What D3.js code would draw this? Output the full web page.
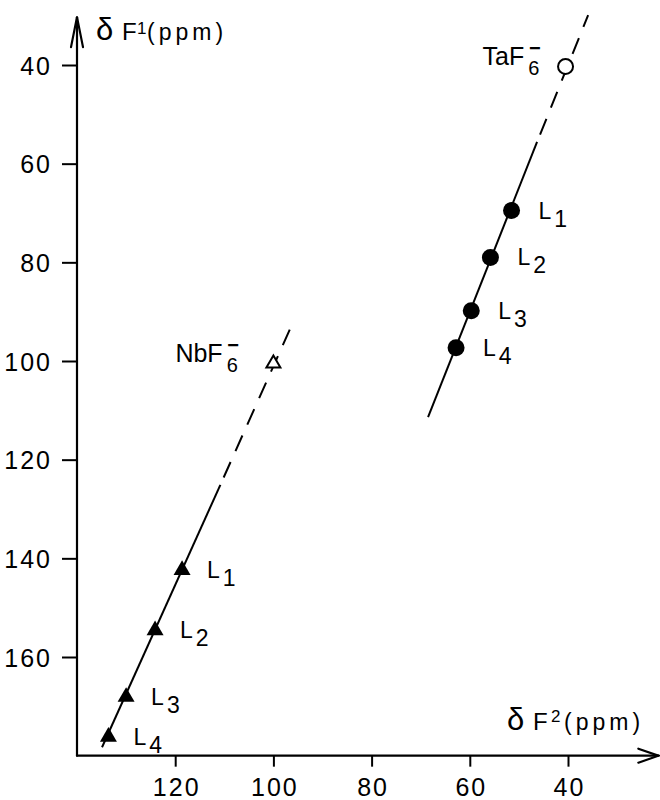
<!DOCTYPE html>
<html>
<head>
<meta charset="utf-8">
<script src="https://cdn.jsdelivr.net/npm/d3@7"></script>
<style>
  body { margin: 0; background: #fff; }
  svg { display: block; font-family: "Liberation Sans", Arial, sans-serif; }
  .tick text { font-size: 25px; letter-spacing: 2px; fill: #000; }
  .tick line { stroke: #000; stroke-width: 2; }
</style>
</head>
<body>
<svg id="chart" width="660" height="800"></svg>
<script>
// delta F2 (x) and delta F1 (y), ppm
const taX = [51.5, 55.8, 59.7, 62.8];
const taY = [69.5, 79.0, 89.8, 97.3];
const nbX = [118.6, 124.1, 130.0, 133.6];
const nbY = [142.4, 154.6, 168.1, 176.2];
const ligands = ["1", "2", "3", "4"];

const taAnion = { name: "TaF", x: 40.5, y: 40.3 };
const nbAnion = { name: "NbF", x: 100, y: 100.5 };

// fitted lines: solid part then dashed extension
const taSolid = [[68.5, 111.4], [46.3, 55.6]];
const taDashed = [[46.3, 55.6], [35.9, 29.9]];
const nbSolid = [[134.9, 178.3], [110.8, 125.1]];
const nbDashed = [[110.8, 125.1], [95.8, 91.7]];

const xTicks = [120, 100, 80, 60, 40];
const yTicks = [40, 60, 80, 100, 120, 140, 160];

const svg = d3.select("#chart");

const x = d3.scaleLinear().domain([140, 40]).range([77, 568]);
const y = d3.scaleLinear().domain([40, 160]).range([65, 657]);
const x0 = x(140), yBase = y(180);

// axes
const xAxis = svg.append("g")
    .attr("transform", `translate(0,${yBase})`)
    .call(d3.axisBottom(x).tickValues(xTicks).tickSize(11));
xAxis.select(".domain").remove();
xAxis.selectAll(".tick text").attr("y", 40).attr("dy", null).attr("dx", 1);

const yAxis = svg.append("g")
    .attr("transform", `translate(${x0},0)`)
    .call(d3.axisLeft(y).tickValues(yTicks).tickSize(15).tickPadding(10));
yAxis.select(".domain").remove();
yAxis.selectAll(".tick text").attr("dy", "0.36em");

const axisLines = svg.append("g").attr("stroke", "#000").attr("stroke-width", 2.2)
    .attr("fill", "none").attr("stroke-linecap", "round");
const yTop = y(30.3), xEnd = x(21.6);
axisLines.append("path").attr("d", `M${x0},${yBase}V${yTop}`);
axisLines.append("path").attr("d", `M${x0},${yBase}H${xEnd}`);
axisLines.append("path").attr("d", `M${x0 - 6},${yTop + 30}L${x0},${yTop}L${x0 + 6},${yTop + 30}`);
axisLines.append("path").attr("d", `M${xEnd - 20},${yBase - 7}L${xEnd},${yBase}L${xEnd - 20},${yBase + 7}`);

// axis titles
function axisTitle(px, py, sup, supX, supDy, pX) {
    const t = svg.append("text").attr("y", py);
    t.append("tspan").attr("x", px).attr("font-size", 31).text("δ");
    t.append("tspan").attr("x", px + 26).attr("font-size", 24).text("F");
    t.append("tspan").attr("x", supX).attr("dy", -supDy).attr("font-size", 17).text(sup);
    t.append("tspan").attr("x", pX).attr("dy", supDy).attr("font-size", 23)
        .attr("letter-spacing", 4).text("(ppm)");
}
axisTitle(96, 40, "1", 137, 6, 147);
axisTitle(507, 730, "2", 551, 8, 564);

// lines
const line = d3.line().x(d => x(d[0])).y(d => y(d[1]));
const lines = svg.append("g").attr("stroke", "#000").attr("fill", "none").attr("stroke-width", 2);
[taSolid, nbSolid].forEach(seg => lines.append("path").attr("d", line(seg)));
[taDashed, nbDashed].forEach(seg => lines.append("path").attr("d", line(seg))
    .attr("stroke-dasharray", "17,12").attr("stroke-dashoffset", -8));

// markers
const taPts = taX.map((v, i) => ({ x: v, y: taY[i], l: ligands[i] }));
const nbPts = nbX.map((v, i) => ({ x: v, y: nbY[i], l: ligands[i] }));

svg.append("g").selectAll("circle").data(taPts).join("circle")
    .attr("cx", d => x(d.x)).attr("cy", d => y(d.y)).attr("r", 8.5).attr("fill", "#000");

svg.append("circle").attr("cx", x(taAnion.x)).attr("cy", y(taAnion.y)).attr("r", 7.5)
    .attr("fill", "#fff").attr("stroke", "#000").attr("stroke-width", 2);

const tri = d3.symbol(d3.symbolTriangle);
svg.append("g").selectAll("path").data(nbPts).join("path")
    .attr("transform", d => `translate(${x(d.x)},${y(d.y)})`)
    .attr("d", tri.size(125)()).attr("fill", "#000");

svg.append("path").attr("transform", `translate(${x(nbAnion.x)},${y(nbAnion.y)})`)
    .attr("d", tri.size(85)()).attr("fill", "#fff").attr("stroke", "#000").attr("stroke-width", 2);

// ligand labels
function ligandLabels(pts, dx) {
    const t = svg.append("g").selectAll("text").data(pts).join("text")
        .attr("x", d => x(d.x) + dx).attr("y", d => y(d.y) + 8).attr("font-size", 23);
    t.append("tspan").text("L");
    t.append("tspan").attr("dx", 3).attr("dy", 8).text(d => d.l);
}
ligandLabels(taPts, 27);
ligandLabels(nbPts, 25);

// anion labels with the charge bar over the subscript
function anionLabel(a, dx) {
    const t = svg.append("text").attr("x", x(a.x) + dx).attr("y", y(a.y) - 1).attr("font-size", 25);
    t.append("tspan").text(a.name);
    const sub = t.append("tspan").attr("font-size", 20).attr("dx", 4).attr("dy", 10).text("6");
    const n = sub.node();
    const start = n.getStartPositionOfChar(0).x, w = n.getComputedTextLength();
    svg.append("text").attr("x", start + w / 2 + 1).attr("y", y(a.y) - 11)
        .attr("text-anchor", "middle").attr("font-size", 20).attr("font-weight", "bold").text("−");
}
anionLabel(taAnion, -83);
anionLabel(nbAnion, -98);
</script>
</body>
</html>
